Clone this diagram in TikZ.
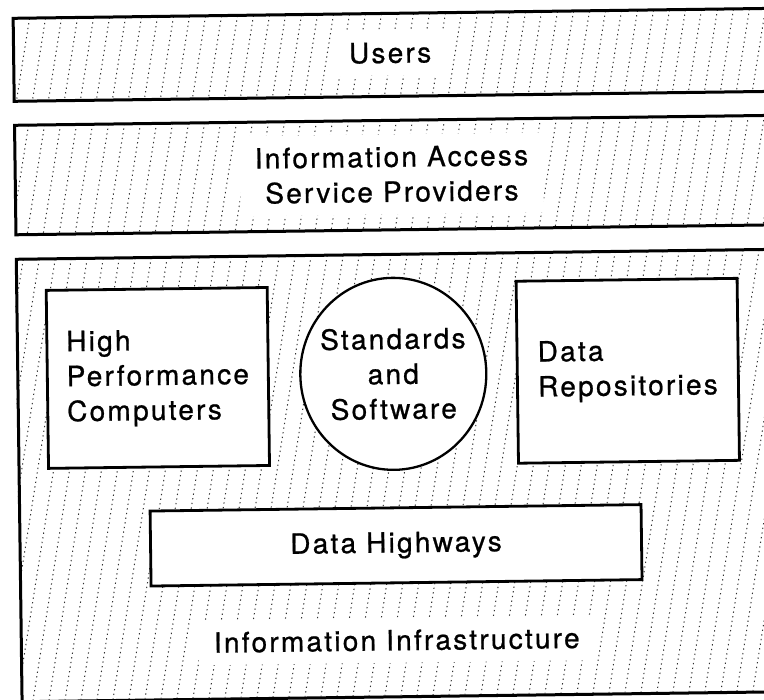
\documentclass[tikz,border=0pt]{standalone}
\usepackage{fontspec}
\setmainfont{TeX Gyre Heros}[LetterSpace=8, FakeBold=0.8]
\usetikzlibrary{shapes.geometric}

\begin{document}
\begin{tikzpicture}[x=1pt, y=-1pt,
        font=\fontsize{28}{35}\selectfont,
        band/.style={draw, line width=3pt, minimum width=784pt, anchor=north west, inner sep=0pt},
        part/.style={draw, line width=2.8pt, fill=white, align=left, inner sep=0pt},
        bandlabel/.style={fill=white, inner xsep=15pt, inner ysep=12pt, align=center},
        hatch/.style={line width=1pt, black!80, dash pattern=on 1.3pt off 3.4pt}]
    \useasboundingbox (0,0) rectangle (764,700);
    \clip (0,0) rectangle (764,700);
    \begin{scope}[rotate around={0.75:(382,350)}, transform shape]
        \begin{scope}
            \clip (16,12) rectangle (800,95) (16,119) rectangle (800,228.5) (16,253) rectangle (800,695.5);
            \foreach \x in {-150,-134,...,820}
                \draw [hatch] (\x,710) -- ++(124,-720);
        \end{scope}
        \node [band, minimum height=83pt] (users) at (16,12) {};
        \node [band, minimum height=109.5pt] (access) at (16,119) {};
        \node [band, minimum height=442.5pt] (infra) at (16,253) {};
        \node [part, minimum width=221pt, minimum height=178pt] (hpc) at (157.5,375) {High\\Performance\\Computers};
        \node [part, ellipse, line width=2.3pt, align=center, inner xsep=-10pt, minimum width=186pt, minimum height=192pt] (standards) at (393,374) {Standards\\and\\Software};
        \node [part, minimum width=221pt, minimum height=182pt] (repos) at (627.5,374) {Data\\Repositories};
        \node [part, minimum width=491pt, minimum height=75pt] (highways) at (393.5,545.5) {Data Highways};
        \node [bandlabel, anchor=base] (userstext) at (394,63) {Users};
        \node [bandlabel] (accesstext) at (394,174.5) {Information Access\\Service Providers};
        \node [bandlabel, anchor=base] (infratext) at (393,650.5) {Information Infrastructure};
    \end{scope}
\end{tikzpicture}
\end{document}
